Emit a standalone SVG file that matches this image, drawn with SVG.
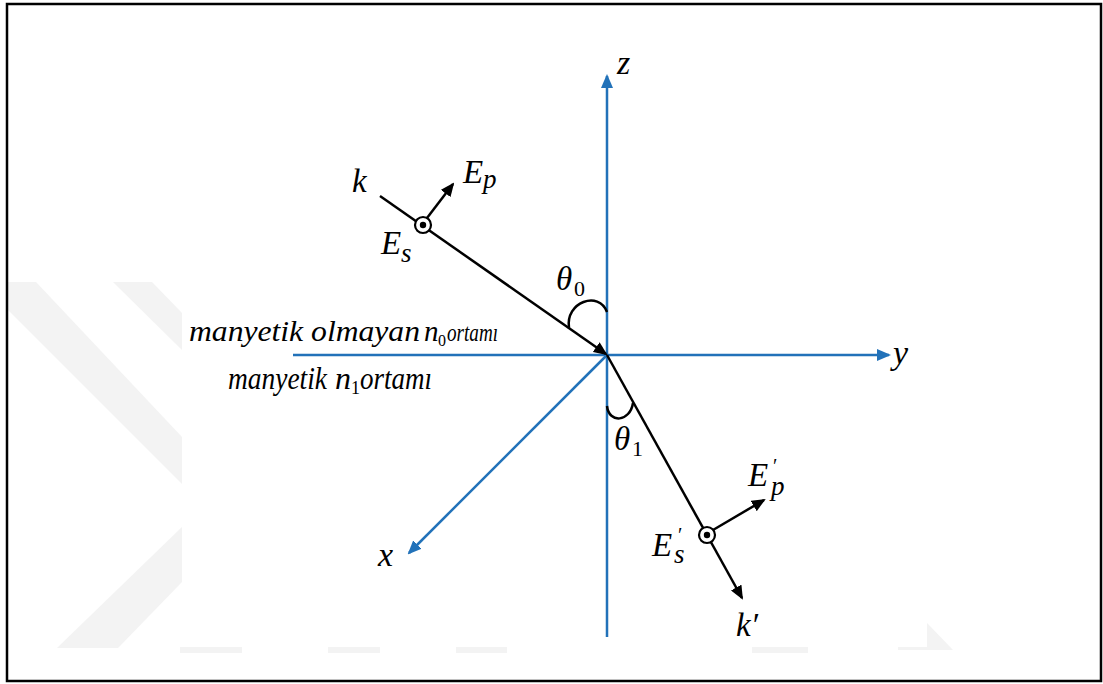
<svg xmlns="http://www.w3.org/2000/svg" width="1103" height="684" viewBox="0 0 1103 684">
<style>
.t{font-family:"Liberation Serif","DejaVu Serif",serif;font-style:italic;fill:#000}
.u{font-family:"Liberation Serif","DejaVu Serif",serif;font-style:normal;fill:#000}
.ax{stroke:#2272b9;stroke-width:2.5;fill:none}
.ray{stroke:#000;stroke-width:2.5;fill:none}
.wm{fill:#f3f3f3}
</style>
<defs>
<marker id="ab" markerUnits="userSpaceOnUse" markerWidth="14" markerHeight="12" refX="12" refY="6" orient="auto"><path d="M0,0 L14,6 L0,12 z" fill="#2272b9"/></marker>
<marker id="ak" markerUnits="userSpaceOnUse" markerWidth="14" markerHeight="12" refX="12" refY="6" orient="auto"><path d="M0,0 L14,6 L0,12 z" fill="#000"/></marker>
</defs>
<rect x="0" y="0" width="1103" height="684" fill="#fff"/>
<g id="watermark">
<polygon class="wm" points="8,282 36,282 182,437 182,484 8,310"/>
<polygon class="wm" points="113,282 152,282 182,313 182,350"/>
<polygon class="wm" points="182,527 182,582 118,648 57,648"/>
<rect class="wm" x="180" y="647" width="62" height="6"/>
<rect class="wm" x="328" y="647" width="52" height="6"/>
<rect class="wm" x="456" y="647" width="51" height="6"/>
<rect class="wm" x="752" y="647" width="56" height="6"/>
<polygon class="wm" points="898,647 927,647 927,623 953,650 898,650"/>
</g>
<rect x="7" y="4" width="1094" height="677" fill="none" stroke="#000" stroke-width="2.5"/>
<g id="connectors">
<line class="ax" x1="607" y1="637" x2="607" y2="76" marker-end="url(#ab)"/>
<line class="ax" x1="293" y1="355" x2="889" y2="355" marker-end="url(#ab)"/>
<line class="ax" x1="607" y1="355" x2="409" y2="553" marker-end="url(#ab)"/>
<line class="ray" x1="380" y1="196" x2="606" y2="354" marker-end="url(#ak)"/>
<line class="ray" x1="607" y1="355" x2="742" y2="598" marker-end="url(#ak)"/>
<line class="ray" x1="427" y1="218" x2="453" y2="184" marker-end="url(#ak)"/>
<line class="ray" x1="713" y1="530" x2="764" y2="500" marker-end="url(#ak)"/>
<path class="ray" d="M569 328 C565 302 599 290 607 312"/>
<path class="ray" d="M607 406 C609 424 630 422 633 403"/>
</g>
<g id="node-Es-in">
<circle cx="423" cy="225" r="8" fill="#fff" stroke="#000" stroke-width="2.2"/>
<circle cx="423" cy="225" r="3.2" fill="#000"/>
</g>
<g id="node-Es-out">
<circle cx="707" cy="535" r="8" fill="#fff" stroke="#000" stroke-width="2.2"/>
<circle cx="707" cy="535" r="3.2" fill="#000"/>
</g>
<g id="labels">
<text class="t" x="617" y="74" font-size="34">z</text>
<text class="t" x="893" y="364" font-size="34">y</text>
<text class="t" x="378" y="566" font-size="34">x</text>
<text class="t" x="352" y="192" font-size="33">k</text>
<text class="t" x="463" y="183" font-size="33">E<tspan x="483" y="188" font-size="27">p</tspan></text>
<text class="t" x="381" y="254" font-size="33">E<tspan x="401" y="262" font-size="27">s</tspan></text>
<text class="t" x="556" y="290" font-size="33">θ<tspan class="u" x="574" y="296" font-size="22">0</tspan></text>
<text class="t" x="614" y="450" font-size="33">θ<tspan class="u" x="632" y="456" font-size="22">1</tspan></text>
<text class="t" x="748" y="486" font-size="33">E<tspan class="u" x="773" y="473" font-size="20">′</tspan><tspan x="771" y="495" font-size="27">p</tspan></text>
<text class="t" x="652" y="556" font-size="33">E<tspan class="u" x="678" y="542" font-size="20">′</tspan><tspan x="674" y="563" font-size="27">s</tspan></text>
<text class="t" x="736" y="636" font-size="33">k′</text>
<text class="t" x="189" y="341" font-size="29"><tspan textLength="231" lengthAdjust="spacingAndGlyphs">manyetik olmayan</tspan><tspan x="424">n</tspan><tspan class="u" x="438" y="346" font-size="16">0</tspan><tspan x="447" y="341" textLength="51" lengthAdjust="spacingAndGlyphs" font-size="26">ortamı</tspan></text>
<text class="t" x="228" y="389" font-size="32"><tspan textLength="99" lengthAdjust="spacingAndGlyphs">manyetik</tspan><tspan x="335">n</tspan><tspan class="u" x="351" y="394" font-size="18">1</tspan><tspan x="360" y="389" textLength="72" lengthAdjust="spacingAndGlyphs">ortamı</tspan></text>
</g>
</svg>
